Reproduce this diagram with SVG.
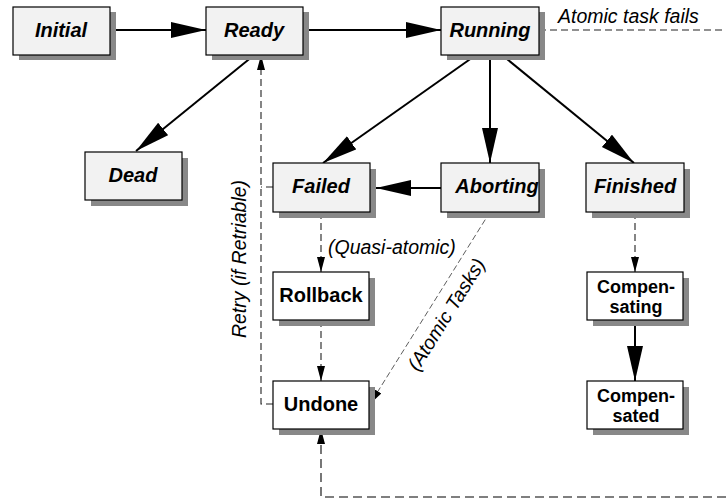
<svg xmlns="http://www.w3.org/2000/svg" width="726" height="503" viewBox="0 0 726 503">
<style>
.shadow{fill:#888}
.box{stroke:#000;stroke-width:1.2}
.grey{fill:#f2f2f2}
.white{fill:#fff}
.st{font-family:"Liberation Sans",Arial,sans-serif;font-weight:bold;font-style:italic;font-size:20px;text-anchor:middle;fill:#000}
.sb{font-family:"Liberation Sans",Arial,sans-serif;font-weight:bold;font-size:20px;text-anchor:middle;fill:#000}
.sb2{font-family:"Liberation Sans",Arial,sans-serif;font-weight:bold;font-size:18px;text-anchor:middle;fill:#000}
.lbl{font-family:"Liberation Sans",Arial,sans-serif;font-style:italic;font-size:19.5px;fill:#000}
.solid{stroke:#000;stroke-width:2;fill:none}
.dash{stroke:#222;stroke-width:1.1;stroke-dasharray:7,4;fill:none}
.dashthin{stroke:#333;stroke-width:0.8;stroke-dasharray:6,3;fill:none}
.dashbold{stroke:#555;stroke-width:1.6;stroke-dasharray:9,5;fill:none}
</style>
<defs>
<marker id="big" markerUnits="userSpaceOnUse" markerWidth="36" markerHeight="18" refX="35" refY="8" orient="auto">
<path d="M0,0 L35,8 L0,16 z" fill="#000"/>
</marker>
<marker id="small" markerUnits="userSpaceOnUse" markerWidth="16" markerHeight="10" refX="15" refY="4" orient="auto">
<path d="M0,0 L15,4 L0,8 z" fill="#000"/>
</marker>
</defs>
<rect width="726" height="503" fill="#fff"/>

<g id="connectors">
<line class="solid" x1="110" y1="30" x2="206" y2="30" marker-end="url(#big)"/>
<line class="solid" x1="303" y1="30" x2="441" y2="30" marker-end="url(#big)"/>
<line class="solid" x1="253" y1="56" x2="136" y2="151" marker-end="url(#big)"/>
<line class="solid" x1="476" y1="55" x2="323" y2="163" marker-end="url(#big)"/>
<line class="solid" x1="490" y1="55" x2="490" y2="163" marker-end="url(#big)"/>
<line class="solid" x1="502" y1="55" x2="634" y2="163" marker-end="url(#big)"/>
<line class="solid" x1="441" y1="188" x2="376" y2="188" marker-end="url(#big)"/>
<line class="solid" x1="635" y1="320" x2="635" y2="381" marker-end="url(#big)"/>
<line class="dash" x1="321" y1="212" x2="321" y2="272" marker-end="url(#small)"/>
<line class="dash" x1="321" y1="320" x2="321" y2="381" marker-end="url(#small)"/>
<line class="dash" x1="635" y1="212" x2="635" y2="272" marker-end="url(#small)"/>
<line class="dashthin" x1="490" y1="212" x2="370" y2="404" marker-end="url(#small)"/>
<path class="dash" d="M273,404 H261 V55" marker-end="url(#small)"/>
<path class="dash" d="M273,187 H261"/>
<path class="dashbold" d="M726,497 H321 V429" marker-end="url(#small)"/>
<line class="dash" x1="539" y1="30" x2="726" y2="30"/>
<text class="lbl" x="558" y="23">Atomic task fails</text>
<text class="lbl" x="328" y="254" font-size="20">(Quasi-atomic)</text>
<text class="lbl" transform="translate(246,259) rotate(-90)" text-anchor="middle" font-size="18.5">Retry (if Retriable)</text>
<text class="lbl" transform="translate(452,318) rotate(-58)" text-anchor="middle" font-size="20.5">(Atomic Tasks)</text>
</g>

<g id="initial">
<rect class="shadow" x="19" y="12" width="97" height="48"/>
<rect class="box grey" x="13" y="7" width="97" height="48"/>
<text class="st" x="61" y="37">Initial</text>
</g>
<g id="ready">
<rect class="shadow" x="212" y="12" width="97" height="48"/>
<rect class="box grey" x="206" y="7" width="97" height="48"/>
<text class="st" x="254" y="37">Ready</text>
</g>
<g id="running">
<rect class="shadow" x="447" y="12" width="98" height="48"/>
<rect class="box grey" x="441" y="7" width="98" height="48"/>
<text class="st" x="490" y="37">Running</text>
</g>
<g id="dead">
<rect class="shadow" x="91" y="158" width="97" height="48"/>
<rect class="box grey" x="85" y="152" width="97" height="48"/>
<text class="st" x="133" y="182">Dead</text>
</g>
<g id="failed">
<rect class="shadow" x="279" y="169" width="97" height="49"/>
<rect class="box grey" x="273" y="163" width="97" height="49"/>
<text class="st" x="321" y="193">Failed</text>
</g>
<g id="aborting">
<rect class="shadow" x="447" y="169" width="98" height="49"/>
<rect class="box grey" x="441" y="163" width="98" height="49"/>
<text class="st" x="497" y="193">Aborting</text>
</g>
<g id="finished">
<rect class="shadow" x="592" y="169" width="98" height="49"/>
<rect class="box grey" x="586" y="163" width="98" height="49"/>
<text class="st" x="635" y="193">Finished</text>
</g>
<g id="rollback">
<rect class="shadow" x="279" y="278" width="96" height="48"/>
<rect class="box white" x="273" y="272" width="96" height="48"/>
<text class="sb" x="321" y="302">Rollback</text>
</g>
<g id="undone">
<rect class="shadow" x="279" y="387" width="96" height="48"/>
<rect class="box white" x="273" y="381" width="96" height="48"/>
<text class="sb" x="321" y="411">Undone</text>
</g>
<g id="compensating">
<rect class="shadow" x="593" y="278" width="96" height="48"/>
<rect class="box white" x="587" y="272" width="96" height="48"/>
<text class="sb2" x="636" y="293">Compen-</text>
<text class="sb2" x="636" y="313">sating</text>
</g>
<g id="compensated">
<rect class="shadow" x="593" y="387" width="96" height="48"/>
<rect class="box white" x="587" y="381" width="96" height="48"/>
<text class="sb2" x="636" y="402">Compen-</text>
<text class="sb2" x="636" y="422">sated</text>
</g>
</svg>
